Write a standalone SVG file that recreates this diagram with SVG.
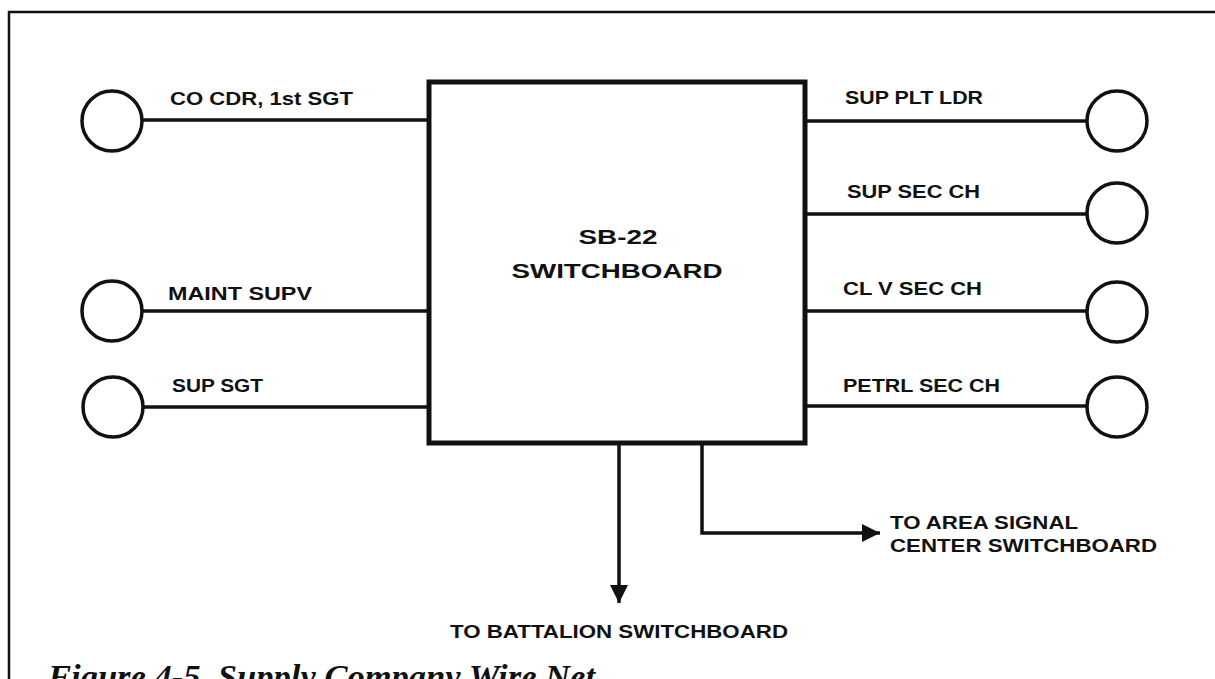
<svg xmlns="http://www.w3.org/2000/svg" width="1215" height="679" viewBox="0 0 1215 679">
<style>
.lbl{font-family:"Liberation Sans",Arial,sans-serif;font-weight:bold;font-size:18px;fill:#111}
.big{font-family:"Liberation Sans",Arial,sans-serif;font-weight:bold;font-size:21px;fill:#111}
.cap{font-family:"Liberation Serif","Times New Roman",serif;font-weight:bold;font-style:italic;font-size:33px;fill:#111}
.term{fill:#fff;stroke:#111;stroke-width:3.5}
.wire{stroke:#111;stroke-width:3.5;fill:none}
</style>
<defs>
<marker id="ah" viewBox="0 0 10 10" refX="10" refY="5" markerWidth="18" markerHeight="18" markerUnits="userSpaceOnUse" orient="auto">
<path d="M0,0 L10,5 L0,10 Z" fill="#111"/>
</marker>
</defs>
<rect width="1215" height="679" fill="#fff"/>
<path d="M9,690 L9,12 L1215,12" fill="none" stroke="#111" stroke-width="2.5"/>
<g id="connectors">
<line class="wire" x1="142" y1="120" x2="429" y2="120"/>
<line class="wire" x1="142" y1="311" x2="429" y2="311"/>
<line class="wire" x1="143" y1="407" x2="429" y2="407"/>
<line class="wire" x1="805" y1="121" x2="1087" y2="121"/>
<line class="wire" x1="805" y1="214" x2="1087" y2="214"/>
<line class="wire" x1="805" y1="311" x2="1087" y2="311"/>
<line class="wire" x1="805" y1="406" x2="1087" y2="406"/>
<line class="wire" x1="619" y1="443" x2="619" y2="603" marker-end="url(#ah)"/>
<path class="wire" d="M702,443 L702,533 L880,533" marker-end="url(#ah)"/>
</g>
<g id="switchboard">
<rect x="429" y="82" width="376" height="361" fill="#fff" stroke="#111" stroke-width="5"/>
<text class="big" x="618" y="244" text-anchor="middle" textLength="79" lengthAdjust="spacingAndGlyphs">SB-22</text>
<text class="big" x="617" y="278" text-anchor="middle" textLength="211" lengthAdjust="spacingAndGlyphs">SWITCHBOARD</text>
</g>
<g id="co-cdr">
<circle class="term" cx="112" cy="121" r="30"/>
<text class="lbl" x="170" y="105" textLength="183" lengthAdjust="spacingAndGlyphs">CO CDR, 1st SGT</text>
</g>
<g id="maint-supv">
<circle class="term" cx="112" cy="311" r="30"/>
<text class="lbl" x="168" y="300" textLength="144" lengthAdjust="spacingAndGlyphs">MAINT SUPV</text>
</g>
<g id="sup-sgt">
<circle class="term" cx="113" cy="407" r="30"/>
<text class="lbl" x="172" y="392" textLength="91" lengthAdjust="spacingAndGlyphs">SUP SGT</text>
</g>
<g id="sup-plt-ldr">
<circle class="term" cx="1117" cy="121" r="30"/>
<text class="lbl" x="845" y="104" textLength="138" lengthAdjust="spacingAndGlyphs">SUP PLT LDR</text>
</g>
<g id="sup-sec-ch">
<circle class="term" cx="1117" cy="213" r="30"/>
<text class="lbl" x="847" y="198" textLength="133" lengthAdjust="spacingAndGlyphs">SUP SEC CH</text>
</g>
<g id="cl-v-sec-ch">
<circle class="term" cx="1117" cy="312" r="30"/>
<text class="lbl" x="843" y="295" textLength="139" lengthAdjust="spacingAndGlyphs">CL V SEC CH</text>
</g>
<g id="petrl-sec-ch">
<circle class="term" cx="1117" cy="407" r="30"/>
<text class="lbl" x="843" y="392" textLength="157" lengthAdjust="spacingAndGlyphs">PETRL SEC CH</text>
</g>
<g id="area-signal">
<text class="lbl" x="890" y="529" textLength="188" lengthAdjust="spacingAndGlyphs">TO AREA SIGNAL</text>
<text class="lbl" x="890" y="552" textLength="267" lengthAdjust="spacingAndGlyphs">CENTER SWITCHBOARD</text>
</g>
<g id="battalion">
<text class="lbl" x="450" y="638" textLength="338" lengthAdjust="spacingAndGlyphs">TO BATTALION SWITCHBOARD</text>
</g>
<text class="cap" x="48" y="688" textLength="547" lengthAdjust="spacingAndGlyphs">Figure 4-5. Supply Company Wire Net</text>
</svg>
